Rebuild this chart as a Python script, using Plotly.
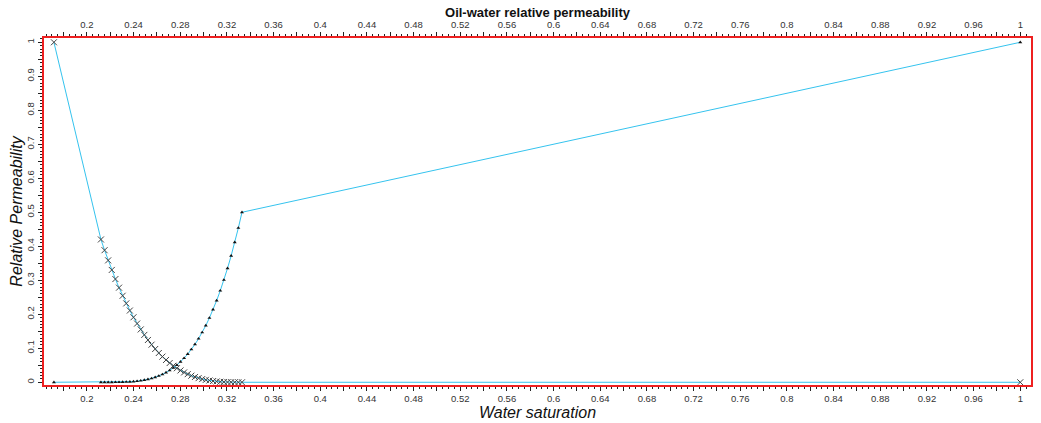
import numpy as np
import plotly.graph_objects as go

# Water saturation grid points
sw = [0.1717, 0.212, 0.2151, 0.2182, 0.2213, 0.2244, 0.2275, 0.2306, 0.2337, 0.2368, 0.2399,
      0.243, 0.2461, 0.2492, 0.2523, 0.2554, 0.2585, 0.2616, 0.2647, 0.2678, 0.2709,
      0.274, 0.2771, 0.2802, 0.2833, 0.2864, 0.2895, 0.2926, 0.2957, 0.2988, 0.3019,
      0.305, 0.3081, 0.3112, 0.3143, 0.3174, 0.3205, 0.3236, 0.3267, 0.3298, 0.3329, 1.0]

krow = [1.0, 0.42, 0.3885, 0.3586, 0.3304, 0.3036, 0.2783, 0.2545, 0.232, 0.211, 0.1912,
        0.1727, 0.1554, 0.1394, 0.1244, 0.1106, 0.0979, 0.0861, 0.0754, 0.0656, 0.0566,
        0.0486, 0.0413, 0.0348, 0.029, 0.0239, 0.0194, 0.0156, 0.0122, 0.0094, 0.0071,
        0.0052, 0.0036, 0.0024, 0.0015, 0.0009, 0.0005, 0.0002, 0.0001, 0.0, 0.0, 0.0]

krw = [0.0, 0.0, 0.0, 0.00001, 0.00004, 0.00011, 0.00025, 0.0005, 0.0009, 0.0014, 0.0022,
       0.0032, 0.0046, 0.0064, 0.0086, 0.0113, 0.0146, 0.0185, 0.0232, 0.0286, 0.0349,
       0.0423, 0.0506, 0.0601, 0.0709, 0.083, 0.0965, 0.1116, 0.1283, 0.1467, 0.167,
       0.1894, 0.2138, 0.2405, 0.2694, 0.3009, 0.3351, 0.3719, 0.4115, 0.454, 0.5, 1.0]

title = "Oil-water relative permeability"
x_title = "Water saturation"
y_title = "Relative Permeability"

x_range = [0.1632, 1.0092]
y_range = [-0.008, 1.0126]

line_col = "#35C3EE"
axis_col = "#EE2020"
tick_col = "#222222"
font_fam = "Liberation Sans, Arial, sans-serif"

# tick positions: long ticks each 0.02, labels each 0.04
xt_vals = [round(v, 2) for v in np.arange(0.18, 1.0001, 0.02)]
xt_text = [("%g" % v) if abs(v / 0.04 - round(v / 0.04)) < 1e-6 else "" for v in xt_vals]
yt_vals = [round(v, 2) for v in np.arange(0.0, 1.0001, 0.05)]
yt_text = [("%g" % v) if abs(v / 0.1 - round(v / 0.1)) < 1e-6 else "" for v in yt_vals]

fig = go.Figure()
fig.add_trace(go.Scatter(
    x=sw, y=krow, mode="lines+markers",
    line=dict(color=line_col, width=1),
    marker=dict(symbol="x-thin", size=6, color="#444444", line=dict(color="#444444", width=1)),
    name="krow", showlegend=False))
fig.add_trace(go.Scatter(
    x=sw, y=krw, mode="lines+markers",
    line=dict(color=line_col, width=1),
    marker=dict(symbol="triangle-up", size=3.5, color="#111111"),
    name="krw", showlegend=False))
# invisible trace to anchor top/right axes
fig.add_trace(go.Scatter(x=[sw[0]], y=[krw[0]], xaxis="x2", yaxis="y2",
                         mode="markers", marker=dict(opacity=0), showlegend=False,
                         hoverinfo="skip"))

common_x = dict(range=x_range, showgrid=False, zeroline=False, showline=True,
                linecolor=axis_col, linewidth=1.5, ticks="outside", ticklen=4,
                tickcolor=tick_col, tickwidth=1, tickvals=xt_vals, ticktext=xt_text,
                tickfont=dict(family=font_fam, size=9.5, color="#333333"),
                minor=dict(dtick=0.005, tick0=0, ticks="outside", ticklen=2,
                           tickcolor=tick_col, showgrid=False))
common_y = dict(range=y_range, showgrid=False, zeroline=False, showline=True,
                linecolor=axis_col, linewidth=1.5, ticks="outside", ticklen=4,
                tickcolor=tick_col, tickwidth=1, tickvals=yt_vals, ticktext=yt_text,
                tickangle=-90,
                tickfont=dict(family=font_fam, size=9.5, color="#333333"),
                minor=dict(dtick=0.01, tick0=0, ticks="outside", ticklen=2,
                           tickcolor=tick_col, showgrid=False))

# page body adds an 8 px offset; figure size/margins compensate for it
fig.update_layout(
    width=1033, height=415,
    margin=dict(l=36, r=10, t=30, b=38),
    paper_bgcolor="white", plot_bgcolor="white",
    title=dict(text="<b>" + title + "</b>", x=0.5126, xanchor="center", y=1.0, yanchor="top",
               pad=dict(t=0, b=0),
               font=dict(family=font_fam, size=13, color="#111111")),
    xaxis=dict(**common_x, side="bottom", automargin=False,
               title=dict(text="<i>" + x_title + "</i>", standoff=0,
                          font=dict(family=font_fam, size=16, color="#111111"))),
    xaxis2=dict(**common_x, side="top", overlaying="x", anchor="y", automargin=False),
    yaxis=dict(**common_y, side="left", automargin=False,
               title=dict(text="<i>" + y_title + "</i>", standoff=2,
                          font=dict(family=font_fam, size=16, color="#111111"))),
    yaxis2=dict(**common_y, side="right", overlaying="y", anchor="x", automargin=False),
)

fig.write_html("out.html")
